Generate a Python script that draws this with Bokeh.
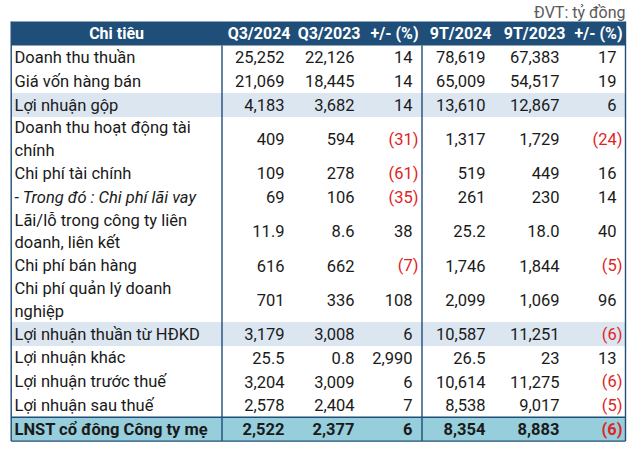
from bokeh.plotting import figure
from bokeh.models import Range1d, ColumnDataSource
from bokeh.core.properties import value
from bokeh.embed import file_html
from bokeh.resources import INLINE

# ---------------- data ----------------
unit_note = "ĐVT: tỷ đồng"
headers = ["Chi tiêu", "Q3/2024", "Q3/2023", "+/- (%)", "9T/2024", "9T/2023", "+/- (%)"]
labels = [
    "Doanh thu thuần",
    "Giá vốn hàng bán",
    "Lợi nhuận gộp",
    "Doanh thu hoạt động tài\nchính",
    "Chi phí tài chính",
    "- Trong đó : Chi phí lãi vay",
    "Lãi/lỗ trong công ty liên\ndoanh, liên kết",
    "Chi phí bán hàng",
    "Chi phí quản lý doanh\nnghiệp",
    "Lợi nhuận thuần từ HĐKD",
    "Lợi nhuận khác",
    "Lợi nhuận trước thuế",
    "Lợi nhuận sau thuế",
    "LNST cổ đông Công ty mẹ",
]
q3_2024 = ["25,252", "21,069", "4,183", "409", "109", "69", "11.9", "616", "701",
           "3,179", "25.5", "3,204", "2,578", "2,522"]
q3_2023 = ["22,126", "18,445", "3,682", "594", "278", "106", "8.6", "662", "336",
           "3,008", "0.8", "3,009", "2,404", "2,377"]
q3_change = [14, 14, 14, -31, -61, -35, 38, -7, 108, 6, 2990, 6, 7, 6]
ytd_2024 = ["78,619", "65,009", "13,610", "1,317", "519", "261", "25.2", "1,746", "2,099",
            "10,587", "26.5", "10,614", "8,538", "8,354"]
ytd_2023 = ["67,383", "54,517", "12,867", "1,729", "449", "230", "18.0", "1,844", "1,069",
            "11,251", "23", "11,275", "9,017", "8,883"]
ytd_change = [17, 19, 6, -24, 16, 14, 40, -5, 96, -6, 13, -6, -5, -6]
shaded_rows = ["Lợi nhuận gộp", "Lợi nhuận thuần từ HĐKD"]
total_row = "LNST cổ đông Công ty mẹ"
italic_rows = ["- Trong đó : Chi phí lãi vay"]

# ---------------- style / layout ----------------
W, H = 629, 452
FONT = value("Roboto")
FS = "16.5px"
HFS = "16px"
DARK = "#1F4E79"
BAND = "#DCE6F1"
TOTAL = "#96CEDC"
RED = "#E02424"
INK = "#1A1A1A"

LEFT, RIGHT = 10.7, 625.0
DIV1, DIV2 = 221.5, 421.5
HEAD_TOP, HEAD_BOT = 21.0, 45.0
ONE_LINE, TWO_LINE = 23.8, 44.6
VAL_X = [284.0, 354.0, 412.0, 485.0, 559.0, 616.0]
PAREN = 6.0

p = figure(width=W, height=H, x_range=Range1d(0, W), y_range=Range1d(H, 0),
           toolbar_location=None, output_backend="svg", min_border=0)
p.axis.visible = False
p.grid.visible = False
p.outline_line_color = None
p.background_fill_color = "white"
p.border_fill_color = "white"

# rows geometry
tops, bots = [], []
y = HEAD_BOT
for lab in labels:
    h = TWO_LINE if "\n" in lab else ONE_LINE
    tops.append(y)
    bots.append(y + h)
    y += h
table_bottom = bots[-1]
centers = [(t + b) / 2 for t, b in zip(tops, bots)]

# header band
p.quad(left=[LEFT], right=[RIGHT], top=[HEAD_TOP], bottom=[HEAD_BOT],
       fill_color=DARK, line_color=None)

# shaded bands
bl, br, bt, bb, bc = [], [], [], [], []
for i, lab in enumerate(labels):
    if lab in shaded_rows or lab == total_row:
        bl.append(LEFT); br.append(RIGHT); bt.append(tops[i]); bb.append(bots[i])
        bc.append(TOTAL if lab == total_row else BAND)
p.quad(left=bl, right=br, top=bt, bottom=bb, fill_color=bc, line_color=None)

# borders
ti = labels.index(total_row)
p.segment(x0=[LEFT, RIGHT, DIV1, DIV2, LEFT, LEFT],
          y0=[HEAD_TOP, HEAD_TOP, HEAD_BOT, HEAD_BOT, tops[ti], table_bottom],
          x1=[LEFT, RIGHT, DIV1, DIV2, RIGHT, RIGHT],
          y1=[table_bottom, table_bottom, table_bottom, table_bottom, tops[ti], table_bottom],
          line_color=DARK, line_width=1.4)

# header texts
hx = [(LEFT + DIV1) / 2] + [vx + PAREN for vx in VAL_X]
ha = ["center"] + ["right"] * 6
p.text(x=hx, y=[(HEAD_TOP + HEAD_BOT) / 2] * 7, text=headers, text_align=ha,
       text_baseline="middle", text_font=FONT, text_font_size=HFS,
       text_font_style="bold", text_color="white")

# unit note
p.text(x=[RIGHT], y=[12.0], text=[unit_note], text_align="right", text_baseline="middle",
       text_font=FONT, text_font_size="16px", text_color="#595959")

# body texts
xs, ys, txt, col, sty, al = [], [], [], [], [], []
for i, lab in enumerate(labels):
    style = "bold" if lab == total_row else ("italic" if lab in italic_rows else "normal")
    xs.append(LEFT + 3.3); ys.append(centers[i]); txt.append(lab)
    col.append(INK); sty.append(style); al.append("left")
    amounts = [q3_2024[i], q3_2023[i], None, ytd_2024[i], ytd_2023[i], None]
    changes = [None, None, q3_change[i], None, None, ytd_change[i]]
    for c in range(6):
        if amounts[c] is not None:
            s, neg = amounts[c], False
        else:
            v = changes[c]
            neg = v < 0
            s = "({:,})".format(abs(v)) if neg else "{:,}".format(v)
        xs.append(VAL_X[c] + (PAREN if neg else 0.0)); ys.append(centers[i]); txt.append(s)
        col.append(RED if neg else INK)
        sty.append("bold" if lab == total_row else "normal")
        al.append("right")

src = ColumnDataSource(dict(x=xs, y=ys, text=txt, color=col, style=sty, align=al))
p.text(x="x", y="y", text="text", source=src, text_align="align", text_baseline="middle",
       text_font=FONT, text_font_size=FS, text_font_style="style", text_color="color",
       text_line_height=1.2)

open("out.html", "w").write(file_html(p, INLINE))
